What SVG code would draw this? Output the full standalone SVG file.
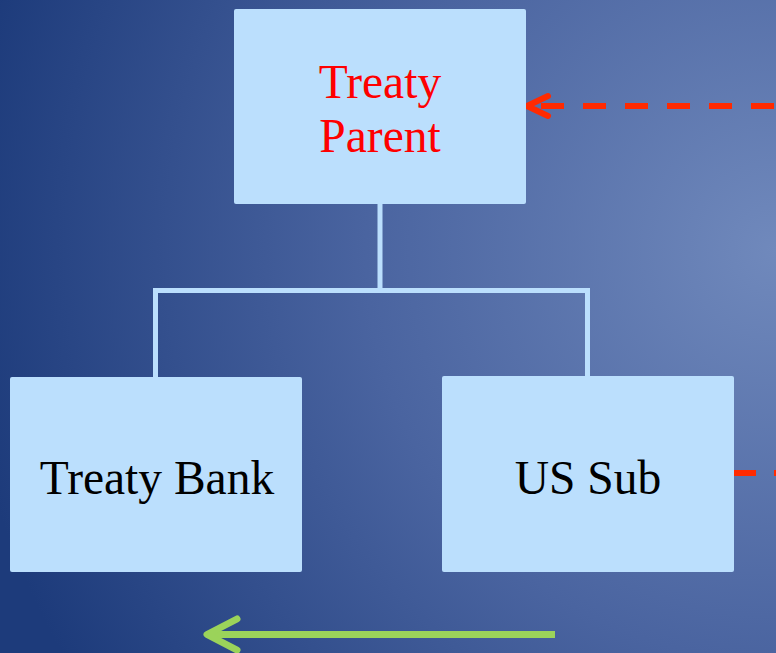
<svg xmlns="http://www.w3.org/2000/svg" width="776" height="653" viewBox="0 0 776 653">
  <defs>
    <radialGradient id="bg" cx="776" cy="250" r="820" gradientUnits="userSpaceOnUse">
      <stop offset="0" stop-color="#7089bc"/>
      <stop offset="0.5" stop-color="#4a64a0"/>
      <stop offset="1" stop-color="#1d3b7b"/>
    </radialGradient>
  </defs>
  <style>
    .box { fill: #bbdffd; stroke: none; }
    .lbl { font-family: "Liberation Serif", "Times New Roman", serif; font-size: 47.5px; text-anchor: middle; }
    .tree { fill: none; stroke: #bbdffd; stroke-width: 5; }
    .red { stroke: #ff2a00; stroke-width: 6; fill: none; }
    .green { stroke: #9bd35a; stroke-width: 7; fill: none; stroke-linejoin: round; }
    .cap { stroke-linecap: round; stroke-linejoin: round; }
  </style>

  <rect x="0" y="0" width="776" height="653" fill="url(#bg)"/>

  <g id="connectors">
    <!-- org-chart tree lines -->
    <path class="tree" d="M380 204 V290.5 M155.5 377 V290.5 H587.5 V377"/>
    <!-- dashed link into Treaty Parent -->
    <line class="red" x1="541" y1="106" x2="776" y2="106" stroke-dasharray="23 19"/>
    <path class="red cap" d="M548 96 L527 106 L548 116"/>
    <!-- dashed link leaving US Sub -->
    <line class="red" x1="732" y1="473" x2="776" y2="473" stroke-dasharray="24 18"/>
    <!-- green flow arrow -->
    <line class="green" x1="555" y1="634.5" x2="210" y2="634.5"/>
    <path class="green cap" d="M237 619 L207 634.5 L237 650"/>
  </g>

  <g id="treaty-parent">
    <rect class="box" x="234" y="9" width="292" height="195" rx="2"/>
    <text class="lbl" x="380" y="98" fill="#ff0000">Treaty</text>
    <text class="lbl" x="380" y="152" fill="#ff0000">Parent</text>
  </g>

  <g id="treaty-bank">
    <rect class="box" x="10" y="377" width="292" height="195" rx="2"/>
    <text class="lbl" x="157" y="494" fill="#000">Treaty Bank</text>
  </g>

  <g id="us-sub">
    <rect class="box" x="442" y="376" width="292" height="196" rx="2"/>
    <text class="lbl" x="588" y="494" fill="#000">US Sub</text>
  </g>
</svg>
